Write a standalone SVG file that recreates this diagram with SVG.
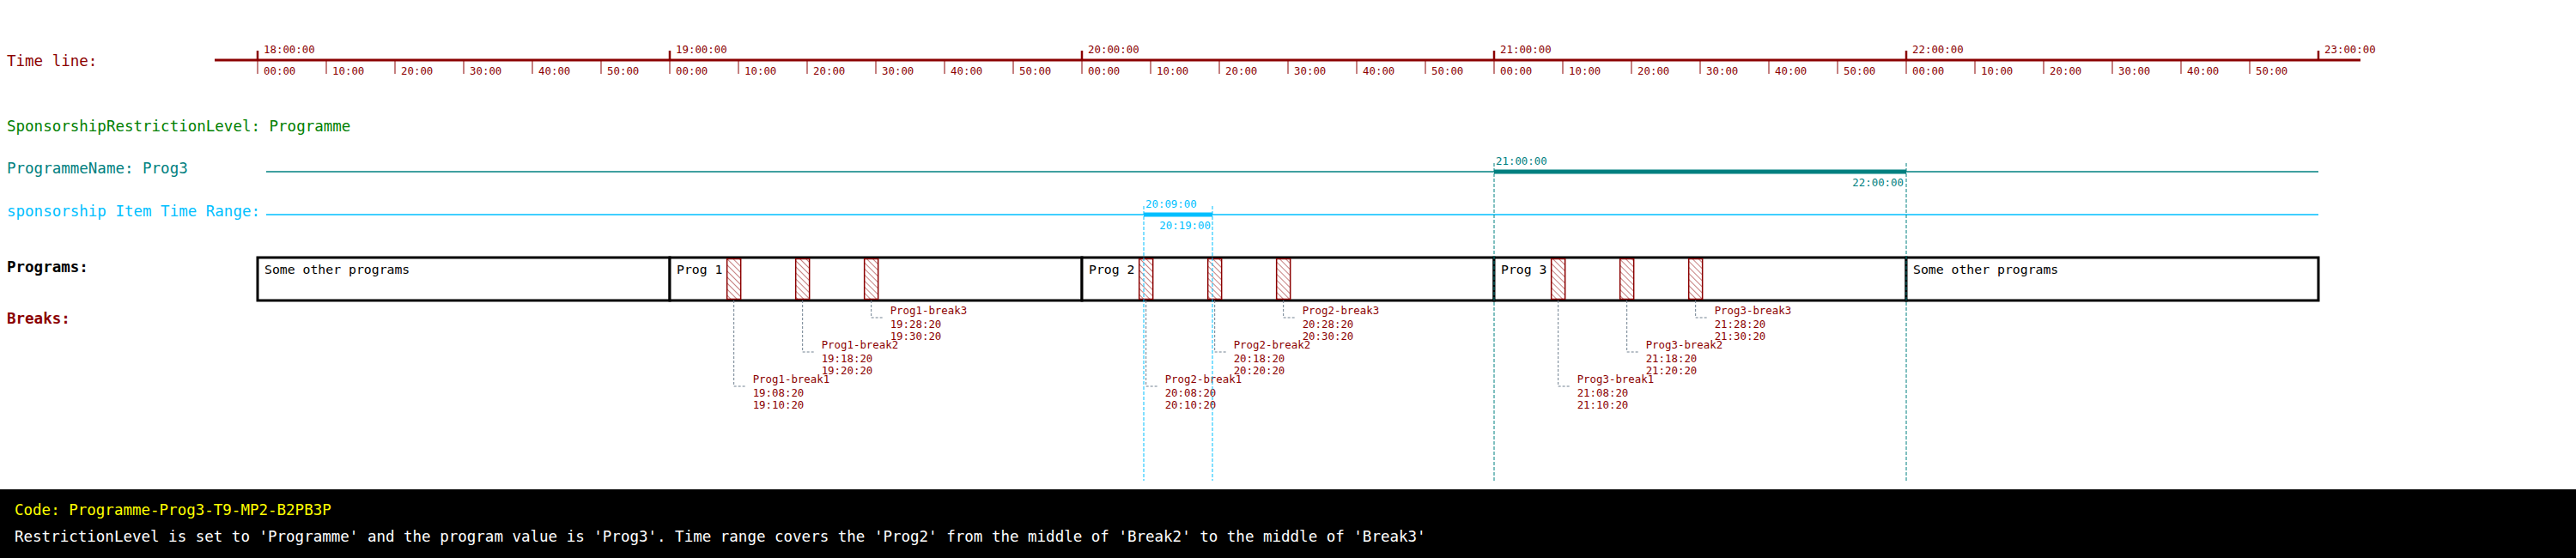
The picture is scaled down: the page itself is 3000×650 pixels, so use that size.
<svg xmlns="http://www.w3.org/2000/svg" width="3000" height="650" viewBox="0 0 3000 650">
<defs>
<style>
text{font-family:"DejaVu Sans Mono","Liberation Mono",monospace;}
.sm{font-size:12.4px;fill:#8B0000;}
.lg{font-size:17.5px;}
.tl{stroke:#8B0000;fill:none;}
.minor{stroke:#8B0000;stroke-width:1;}
.major{stroke:#8B0000;stroke-width:2.5;}
.prog{fill:#fff;stroke:#000;stroke-width:3;}
.ptxt{font-size:14.8px;fill:#000;}
.brk{fill:url(#hatch);stroke:#8B0000;stroke-width:1.5;}
.lead{fill:none;stroke:#708090;stroke-width:1;stroke-dasharray:3,2;}
.blbl{font-size:12.4px;fill:#8B0000;}
.tealv{stroke:#008080;stroke-width:1;stroke-dasharray:4,2;}
.skyv{stroke:#00BFFF;stroke-width:1;stroke-dasharray:4,2;}
</style>
<pattern id="hatch" patternUnits="userSpaceOnUse" width="5" height="5" patternTransform="rotate(-45)">
<rect width="5" height="5" fill="#fff"/>
<line x1="0" y1="0" x2="0" y2="5" stroke="#8B0000" stroke-width="1"/>
</pattern>
</defs>
<rect x="0" y="0" width="3000" height="650" fill="#fff"/>

<g id="timeline">
<text x="8" y="77" class="lg" fill="#8B0000">Time line:</text>
<line x1="250" y1="70" x2="2749" y2="70" stroke="#8B0000" stroke-width="3"/>
<g class="majors">
<line x1="300" y1="59" x2="300" y2="70" class="major"/>
<line x1="780" y1="59" x2="780" y2="70" class="major"/>
<line x1="1260" y1="59" x2="1260" y2="70" class="major"/>
<line x1="1740" y1="59" x2="1740" y2="70" class="major"/>
<line x1="2220" y1="59" x2="2220" y2="70" class="major"/>
<line x1="2700" y1="59" x2="2700" y2="70" class="major"/>
</g>
<text x="307" y="62" class="sm">18:00:00</text>
<text x="787" y="62" class="sm">19:00:00</text>
<text x="1267" y="62" class="sm">20:00:00</text>
<text x="1747" y="62" class="sm">21:00:00</text>
<text x="2227" y="62" class="sm">22:00:00</text>
<text x="2707" y="62" class="sm">23:00:00</text>
<path class="minor" d="M300 70V86M380 70V86M460 70V86M540 70V86M620 70V86M700 70V86M780 70V86M860 70V86M940 70V86M1020 70V86M1100 70V86M1180 70V86M1260 70V86M1340 70V86M1420 70V86M1500 70V86M1580 70V86M1660 70V86M1740 70V86M1820 70V86M1900 70V86M1980 70V86M2060 70V86M2140 70V86M2220 70V86M2300 70V86M2380 70V86M2460 70V86M2540 70V86M2620 70V86"/>
<text x="307" y="87" class="sm">00:00</text><text x="387" y="87" class="sm">10:00</text><text x="467" y="87" class="sm">20:00</text><text x="547" y="87" class="sm">30:00</text><text x="627" y="87" class="sm">40:00</text><text x="707" y="87" class="sm">50:00</text>
<text x="787" y="87" class="sm">00:00</text><text x="867" y="87" class="sm">10:00</text><text x="947" y="87" class="sm">20:00</text><text x="1027" y="87" class="sm">30:00</text><text x="1107" y="87" class="sm">40:00</text><text x="1187" y="87" class="sm">50:00</text>
<text x="1267" y="87" class="sm">00:00</text><text x="1347" y="87" class="sm">10:00</text><text x="1427" y="87" class="sm">20:00</text><text x="1507" y="87" class="sm">30:00</text><text x="1587" y="87" class="sm">40:00</text><text x="1667" y="87" class="sm">50:00</text>
<text x="1747" y="87" class="sm">00:00</text><text x="1827" y="87" class="sm">10:00</text><text x="1907" y="87" class="sm">20:00</text><text x="1987" y="87" class="sm">30:00</text><text x="2067" y="87" class="sm">40:00</text><text x="2147" y="87" class="sm">50:00</text>
<text x="2227" y="87" class="sm">00:00</text><text x="2307" y="87" class="sm">10:00</text><text x="2387" y="87" class="sm">20:00</text><text x="2467" y="87" class="sm">30:00</text><text x="2547" y="87" class="sm">40:00</text><text x="2627" y="87" class="sm">50:00</text>
</g>

<g id="restriction-level">
<text x="8" y="153" class="lg" fill="#008000">SponsorshipRestrictionLevel: Programme</text>
</g>

<g id="programme-name">
<text x="8" y="202" class="lg" fill="#008080">ProgrammeName: Prog3</text>
<line x1="310" y1="200" x2="2700" y2="200" stroke="#008080" stroke-width="1.5"/>
<line x1="1740" y1="200" x2="2220" y2="200" stroke="#008080" stroke-width="5"/>
<text x="1742" y="192" class="sm" fill="#008080" style="fill:#008080">21:00:00</text>
<text x="2217" y="217" class="sm" text-anchor="end" style="fill:#008080">22:00:00</text>
</g>

<g id="time-range">
<text x="8" y="252" class="lg" fill="#00BFFF">sponsorship Item Time Range:</text>
<line x1="310" y1="250" x2="2700" y2="250" stroke="#00BFFF" stroke-width="1.5"/>
<line x1="1332" y1="250" x2="1412" y2="250" stroke="#00BFFF" stroke-width="5"/>
<text x="1334" y="242" class="sm" style="fill:#00BFFF">20:09:00</text>
<text x="1410" y="267" class="sm" text-anchor="end" style="fill:#00BFFF">20:19:00</text>
</g>

<g id="programs-label">
<text x="8" y="317" class="lg" font-weight="bold" fill="#000">Programs:</text>
</g>
<g id="breaks-label">
<text x="8" y="377" class="lg" font-weight="bold" fill="#8B0000">Breaks:</text>
</g>

<g id="prog-other-1"><rect x="300" y="300" width="480" height="50" class="prog"/><text x="308" y="319" class="ptxt">Some other programs</text></g>
<g id="prog-1"><rect x="780" y="300" width="480" height="50" class="prog"/><text x="788" y="319" class="ptxt">Prog 1</text></g>
<g id="prog-2"><rect x="1260" y="300" width="480" height="50" class="prog"/><text x="1268" y="319" class="ptxt">Prog 2</text></g>
<g id="prog-3"><rect x="1740" y="300" width="480" height="50" class="prog"/><text x="1748" y="319" class="ptxt">Prog 3</text></g>
<g id="prog-other-2"><rect x="2220" y="300" width="480" height="50" class="prog"/><text x="2228" y="319" class="ptxt">Some other programs</text></g>

<g id="prog1-break1"><rect x="846.67" y="301.5" width="16" height="47" class="brk"/><text class="blbl" x="876.67" y="446">Prog1-break1</text><text class="blbl" x="876.67" y="461.5">19:08:20</text><text class="blbl" x="876.67" y="476">19:10:20</text></g>
<g id="prog1-break2"><rect x="926.67" y="301.5" width="16" height="47" class="brk"/><text class="blbl" x="956.67" y="406">Prog1-break2</text><text class="blbl" x="956.67" y="421.5">19:18:20</text><text class="blbl" x="956.67" y="436">19:20:20</text></g>
<g id="prog1-break3"><rect x="1006.67" y="301.5" width="16" height="47" class="brk"/><text class="blbl" x="1036.67" y="366">Prog1-break3</text><text class="blbl" x="1036.67" y="381.5">19:28:20</text><text class="blbl" x="1036.67" y="396">19:30:20</text></g>

<g id="prog2-break1"><rect x="1326.67" y="301.5" width="16" height="47" class="brk"/><text class="blbl" x="1356.67" y="446">Prog2-break1</text><text class="blbl" x="1356.67" y="461.5">20:08:20</text><text class="blbl" x="1356.67" y="476">20:10:20</text></g>
<g id="prog2-break2"><rect x="1406.67" y="301.5" width="16" height="47" class="brk"/><text class="blbl" x="1436.67" y="406">Prog2-break2</text><text class="blbl" x="1436.67" y="421.5">20:18:20</text><text class="blbl" x="1436.67" y="436">20:20:20</text></g>
<g id="prog2-break3"><rect x="1486.67" y="301.5" width="16" height="47" class="brk"/><text class="blbl" x="1516.67" y="366">Prog2-break3</text><text class="blbl" x="1516.67" y="381.5">20:28:20</text><text class="blbl" x="1516.67" y="396">20:30:20</text></g>

<g id="prog3-break1"><rect x="1806.67" y="301.5" width="16" height="47" class="brk"/><text class="blbl" x="1836.67" y="446">Prog3-break1</text><text class="blbl" x="1836.67" y="461.5">21:08:20</text><text class="blbl" x="1836.67" y="476">21:10:20</text></g>
<g id="prog3-break2"><rect x="1886.67" y="301.5" width="16" height="47" class="brk"/><text class="blbl" x="1916.67" y="406">Prog3-break2</text><text class="blbl" x="1916.67" y="421.5">21:18:20</text><text class="blbl" x="1916.67" y="436">21:20:20</text></g>
<g id="prog3-break3"><rect x="1966.67" y="301.5" width="16" height="47" class="brk"/><text class="blbl" x="1996.67" y="366">Prog3-break3</text><text class="blbl" x="1996.67" y="381.5">21:28:20</text><text class="blbl" x="1996.67" y="396">21:30:20</text></g>

<g id="connectors">
<path class="lead" d="M854.67 350V450H868.67"/>
<path class="lead" d="M934.67 350V410H948.67"/>
<path class="lead" d="M1014.67 350V370H1028.67"/>
<path class="lead" d="M1334.67 350V450H1348.67"/>
<path class="lead" d="M1414.67 350V410H1428.67"/>
<path class="lead" d="M1494.67 350V370H1508.67"/>
<path class="lead" d="M1814.67 350V450H1828.67"/>
<path class="lead" d="M1894.67 350V410H1908.67"/>
<path class="lead" d="M1974.67 350V370H1988.67"/>
<line class="tealv" x1="1740" y1="190" x2="1740" y2="560"/>
<line class="tealv" x1="2220" y1="190" x2="2220" y2="560"/>
<line class="skyv" x1="1332" y1="240" x2="1332" y2="560"/>
<line class="skyv" x1="1412" y1="240" x2="1412" y2="560"/>
</g>

<g id="footer">
<rect x="0" y="570" width="3000" height="80" fill="#000"/>
<text x="17" y="600" class="lg" fill="#FFFF00">Code: Programme-Prog3-T9-MP2-B2PB3P</text>
<text x="17" y="631" class="lg" fill="#FFFFFF">RestrictionLevel is set to 'Programme' and the program value is 'Prog3'. Time range covers the 'Prog2' from the middle of 'Break2' to the middle of 'Break3'</text>
</g>
</svg>
